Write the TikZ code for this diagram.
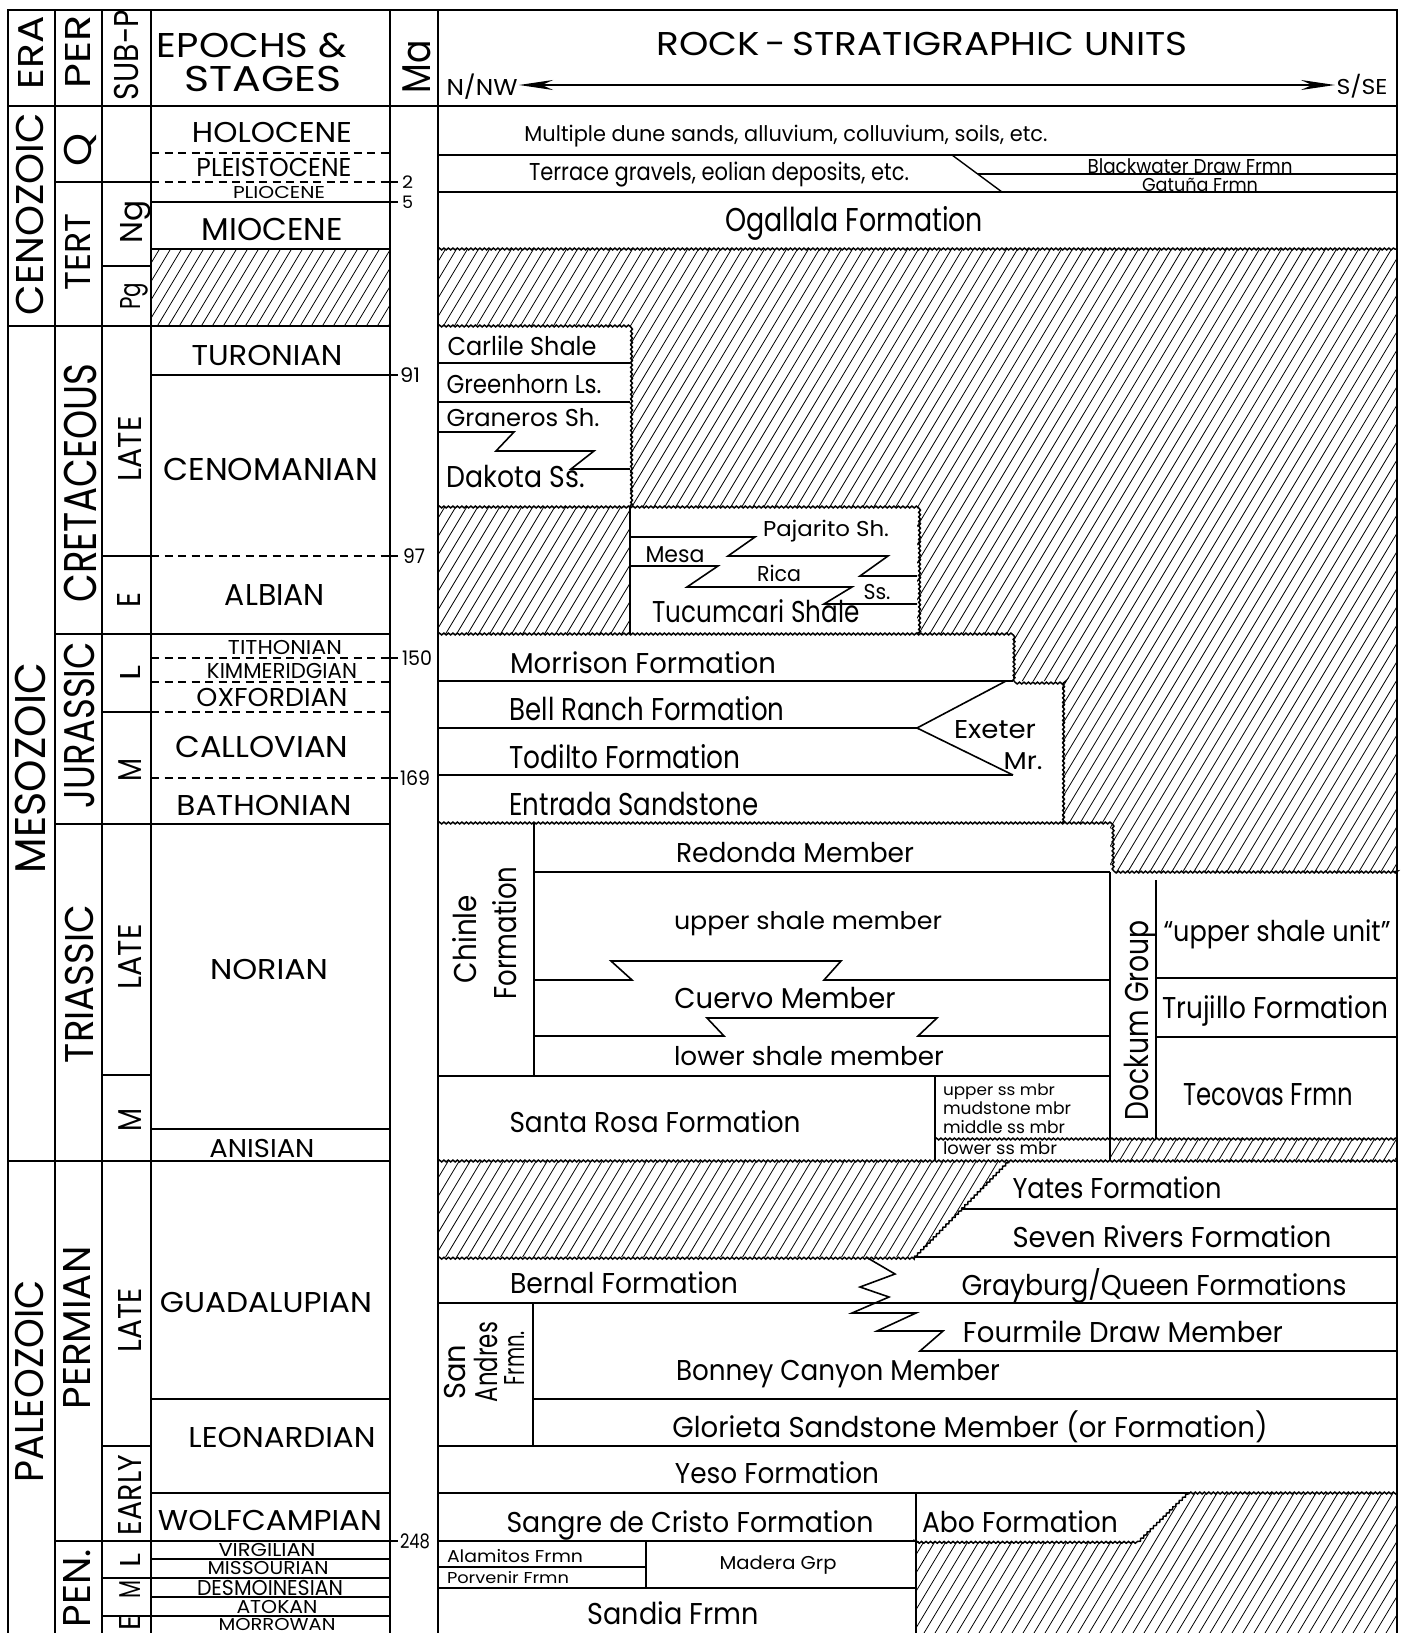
\documentclass[tikz,border=0pt]{standalone}
\usepackage{fontspec}
\setmainfont{Poppins}
\usepackage{graphicx}
\usetikzlibrary{decorations.pathmorphing,arrows.meta}
\newcommand\T[3]{\resizebox{#1pt}{#2pt}{\raisebox{0pt}[\fontcharht\font`X][0pt]{#3}}}
\newcommand\Lab[6]{\node[lbl] (#1) at (#2,#3) {\T{#4}{#5}{#6}};}
\newcommand\Rab[6]{\node[rlbl] (#1) at (#2,#3) {\T{#4}{#5}{#6}};}
\tikzset{
 lbl/.style={anchor=center,inner sep=0pt,outer sep=0pt,font=\fontsize{20}{24}\selectfont},
 rlbl/.style={lbl,rotate=90},
 gridline/.style={line width=1.7pt},
 thinline/.style={line width=1.4pt},
 framel/.style={line width=2.6pt},
 dashl/.style={line width=1.5pt,dash pattern=on 8pt off 5.5pt},
 wavy/.style={line width=1.5pt,decorate,decoration={snake,amplitude=0.9pt,segment length=4.5pt}},
 hatchl/.style={line width=0.8pt},
 zig/.style={line width=1.6pt},
}
\begin{document}
\begin{tikzpicture}[x=1pt,y=-1pt]
\useasboundingbox (0,0) rectangle (1405,1633);
\fill[white] (0,0) rectangle (1405,1633);
% ---------- hatching ----------
\begin{scope}
\clip (151,249) rectangle (390,326)
  (438,249) -- (1397,249) -- (1397,872) -- (1110,872) -- (1110,823) -- (1062,823) -- (1062,681) -- (1013,681) -- (1013,634) -- (917,634) -- (917,507) -- (630,507) -- (630,326) -- (438,326) -- cycle
  (438,507) rectangle (630,634)
  (1110,1139) rectangle (1397,1161)
  (438,1161) -- (1009,1161) -- (915,1257) -- (438,1257) -- cycle
  (1190,1493) -- (1397,1493) -- (1397,1633) -- (916,1633) -- (916,1542) -- (1140,1542) -- cycle;
\foreach \i in {-76,...,128} \draw[hatchl] (\i*11,1633) -- ++(980,-1633);
\end{scope}
% ---------- left columns ----------
\foreach \xx in {55,102,151,390,438} \draw[gridline] (\xx,10) -- (\xx,1633);
\draw[framel] (8,106) -- (1397,106);
\draw[gridline] (8,326) -- (390,326);
\draw[gridline] (8,1161) -- (390,1161);
\draw[gridline] (55,182) -- (151,182);
\draw[gridline] (55,634) -- (390,634);
\draw[gridline] (55,824) -- (390,824);
\draw[gridline] (55,1541) -- (390,1541);
\draw[gridline] (102,266) -- (151,266);
\draw[gridline] (102,556) -- (151,556);
\draw[gridline] (102,712) -- (151,712);
\draw[gridline] (102,1075) -- (151,1075);
\draw[gridline] (102,1446) -- (151,1446);
\draw[thinline] (102,1578) -- (390,1578);
\draw[thinline] (102,1616) -- (390,1616);
\foreach \yy in {153,182,556,658,682,712,778} \draw[dashl] (151,\yy) -- (390,\yy);
\foreach \yy in {202,249,375,1129,1399,1493} \draw[gridline] (151,\yy) -- (390,\yy);
\foreach \yy in {1559,1597} \draw[thinline] (151,\yy) -- (390,\yy);
\foreach \yy in {182,202,375,556,658,778,1541} \draw[thinline] (390,\yy) -- (398,\yy);
% ---------- rock column ----------
\draw[gridline] (438,155) -- (1397,155);
\draw[gridline] (438,192) -- (1397,192);
\draw[thinline] (952,155) -- (1002,192);
\draw[thinline] (978,174) -- (1397,174);
\draw[wavy] (438,249) -- (1397,249);
% Cretaceous
\draw[wavy] (438,326) -- (630,326) -- (630,507);
\draw[gridline] (438,363) -- (630,363);
\draw[gridline] (438,402) -- (630,402);
\draw[zig] (438,432) -- (514,432) -- (496,451) -- (594,451) -- (571,469) -- (630,469);
\draw[wavy] (438,507) -- (917,507) -- (917,634);
\draw[gridline] (630,507) -- (630,634);
\draw[zig] (630,537) -- (755,537) -- (728,556) -- (888,556) -- (860,576) -- (917,576);
\draw[zig] (630,566) -- (718,566) -- (687,587) -- (852,587) -- (824,604) -- (917,604);
% Jurassic
\draw[wavy] (438,634) -- (1013,634) -- (1013,681) -- (1062,681) -- (1062,823);
\draw[gridline] (438,681) -- (1013,681);
\draw[gridline] (438,728) -- (917,728);
\draw[gridline] (438,775) -- (1013,775);
\draw[zig] (1006,681) -- (917,728) -- (1013,775);
\draw[wavy] (438,823) -- (1110,823) -- (1110,872) -- (1397,872);
% Triassic
\draw[gridline] (534,823) -- (534,1076);
\draw[gridline] (534,872) -- (1110,872);
\draw[zig] (534,980) -- (632,980) -- (611,961) -- (841,961) -- (824,980) -- (1110,980);
\draw[zig] (534,1036) -- (724,1036) -- (707,1018) -- (937,1018) -- (918,1036) -- (1110,1036);
\draw[gridline] (438,1076) -- (1110,1076);
\draw[gridline] (1110,872) -- (1110,1161);
\draw[gridline] (935,1076) -- (935,1161);
\draw[wavy] (935,1139) -- (1397,1139);
\draw[gridline] (1156,880) -- (1156,1139);
\draw[gridline] (1156,978) -- (1397,978);
\draw[gridline] (1156,1037) -- (1397,1037);
\draw[wavy] (438,1161) -- (1397,1161);
% Permian
\draw[wavy] (1009,1161) -- (915,1257) -- (438,1257);
\draw[gridline] (962,1209) -- (1397,1209);
\draw[gridline] (915,1257) -- (1397,1257);
\draw[gridline] (438,1303) -- (1397,1303);
\draw[zig] (866,1257) -- (895,1274) -- (860,1287) -- (889,1297) -- (852,1313) -- (916,1313) -- (877,1331) -- (943,1331) -- (920,1351) -- (1397,1351);
\draw[gridline] (533,1303) -- (533,1446);
\draw[gridline] (533,1399) -- (1397,1399);
\draw[gridline] (438,1446) -- (1397,1446);
\draw[gridline] (438,1493) -- (1190,1493);
\draw[wavy] (1397,1493) -- (1190,1493) -- (1140,1542) -- (916,1542);
\draw[gridline] (438,1541) -- (916,1541);
\draw[gridline] (916,1493) -- (916,1633);
\draw[thinline] (646,1541) -- (646,1588);
\draw[thinline] (438,1567) -- (646,1567);
\draw[thinline] (438,1588) -- (916,1588);
% header arrow
\coordinate (arrL) at (519,85);
\coordinate (arrR) at (1335,85);
\draw[line width=2.4pt,{Stealth[length=34pt,width=10pt]}-{Stealth[length=34pt,width=10pt]}] (arrL) -- (arrR);
% frame
\draw[framel] (8,1633) -- (8,10) -- (1397,10) -- (1397,1633);
% ---------- header texts ----------
\Rab{hERA}{31}{53}{73}{25}{ERA}
\Rab{hPER}{78}{52}{73}{25}{PER}
\Rab{hSUB}{126}{55}{90}{24}{SUB-P}
\Lab{hEPa}{252}{45}{190}{24}{EPOCHS \&}
\Lab{hEPb}{263}{79}{157}{25}{STAGES}
\Rab{hMa}{416}{67}{53}{28}{Ma}
\Lab{hRock}{922}{44}{531}{23}{ROCK\,-\,STRATIGRAPHIC UNITS}
\Lab{hN}{482}{87}{71}{16}{N/NW}
\Lab{hS}{1362}{87}{51}{15}{S/SE}
% ---------- era / period / subperiod ----------
\Rab{eCen}{30}{214}{202}{27}{CENOZOIC}
\Rab{eMes}{30}{768}{210}{30}{MESOZOIC}
\Rab{ePal}{29}{1381}{202}{28}{PALEOZOIC}
\Rab{pQ}{78}{150}{33}{27}{Q}
\Rab{pTert}{78}{252}{77}{25}{TERT}
\Rab{pCret}{80}{483}{239}{32}{CRETACEOUS}
\Rab{pJur}{79}{725}{166}{30}{JURASSIC}
\Rab{pTri}{79}{984}{158}{28}{TRIASSIC}
\Rab{pPerm}{77}{1328}{163}{27}{PERMIAN}
\Rab{pPen}{77}{1588}{78}{27}{PEN.}
\Rab{sNg}{131}{222}{43}{22}{Ng}
\Rab{sPg}{130}{296}{27}{20}{Pg}
\Rab{sLa}{130}{449}{65}{23}{LATE}
\Rab{sEa}{129}{600}{15}{23}{E}
\Rab{sLb}{130}{673}{15}{20}{L}
\Rab{sMa}{130}{770}{23}{23}{M}
\Rab{sLc}{130}{957}{65}{23}{LATE}
\Rab{sMb}{130}{1120}{23}{23}{M}
\Rab{sLd}{130}{1320}{64}{23}{LATE}
\Rab{sEarly}{130}{1495}{80}{23}{EARLY}
\Rab{sLe}{130}{1560}{14}{20}{L}
\Rab{sMc}{130}{1589}{18}{21}{M}
\Rab{sEb}{130}{1623}{15}{21}{E}
% ---------- epochs & stages ----------
\Lab{stHol}{272}{132}{160}{20}{HOLOCENE}
\Lab{stPle}{274}{167}{155}{18}{PLEISTOCENE}
\Lab{stPli}{279}{192}{92}{12}{PLIOCENE}
\Lab{stMio}{272}{229}{141}{22}{MIOCENE}
\Lab{stTur}{267}{355}{151}{20}{TURONIAN}
\Lab{stCen}{271}{469}{215}{22}{CENOMANIAN}
\Lab{stAlb}{275}{595}{100}{21}{ALBIAN}
\Lab{stTit}{285}{647}{114}{14}{TITHONIAN}
\Lab{stKim}{282}{671}{150}{15}{KIMMERIDGIAN}
\Lab{stOxf}{272}{697}{151}{18}{OXFORDIAN}
\Lab{stCal}{262}{747}{173}{21}{CALLOVIAN}
\Lab{stBat}{264}{805}{175}{20}{BATHONIAN}
\Lab{stNor}{269}{969}{118}{20}{NORIAN}
\Lab{stAni}{262}{1148}{105}{18}{ANISIAN}
\Lab{stGua}{266}{1302}{212}{20}{GUADALUPIAN}
\Lab{stLeo}{282}{1437}{187}{20}{LEONARDIAN}
\Lab{stWol}{270}{1520}{224}{20}{WOLFCAMPIAN}
\Lab{stVir}{267}{1550}{97}{13}{VIRGILIAN}
\Lab{stMis}{268}{1568}{121}{13}{MISSOURIAN}
\Lab{stDes}{270}{1588}{146}{15}{DESMOINESIAN}
\Lab{stAto}{277}{1607}{81}{13}{ATOKAN}
\Lab{stMor}{277}{1624}{117}{12}{MORROWAN}
% ---------- Ma numbers ----------
\Lab{ma2}{407.5}{182}{11}{12}{2}
\Lab{ma5}{407.5}{202}{11}{12}{5}
\Lab{ma91}{410}{375}{20}{14}{91}
\Lab{ma97}{414}{556}{22}{14}{97}
\Lab{ma150}{417}{658}{30}{14}{150}
\Lab{ma169}{415}{778}{30}{14}{169}
\Lab{ma248}{415}{1541}{30}{14}{248}
% ---------- rock units ----------
\Lab{rMult}{786}{134}{523}{15}{Multiple dune sands, alluvium, colluvium, soils, etc.}
\Lab{rTerr}{719}{172}{380}{17}{Terrace gravels, eolian deposits, etc.}
\Lab{rBlack}{1190}{166}{205}{14}{Blackwater Draw Frmn}
\Lab{rGat}{1200}{185}{116}{13}{Gatuña Frmn}
\Lab{rOgal}{854}{220}{258}{23}{Ogallala Formation}
\Lab{rCarl}{522}{346}{149}{18}{Carlile Shale}
\Lab{rGreen}{524}{384}{155}{18}{Greenhorn Ls.}
\Lab{rGran}{523}{418}{153}{17}{Graneros Sh.}
\Lab{rDak}{516}{477}{138}{21}{Dakota Ss.}
\Lab{rPaj}{826}{529}{126}{15}{Pajarito Sh.}
\Lab{rMesa}{675}{554}{59}{16}{Mesa}
\Lab{rRica}{779}{574}{44}{15}{Rica}
\Lab{rSs}{877}{592}{27}{15}{Ss.}
\Lab{rTuc}{756}{612}{207}{21}{Tucumcari Shale}
\Lab{rMorr}{643}{663}{266}{20}{Morrison Formation}
\Lab{rBell}{647}{709}{275}{22}{Bell Ranch Formation}
\Lab{rTod}{625}{757}{231}{22}{Todilto Formation}
\Lab{rEntr}{634}{804}{249}{22}{Entrada Sandstone}
\Lab{rExe}{995}{729}{82}{18}{Exeter}
\Lab{rMr}{1023}{761}{39}{17}{Mr.}
\Rab{rChA}{465}{939}{88}{22}{Chinle}
\Rab{rChB}{505}{933}{133}{22}{Formation}
\Lab{rRed}{795}{853}{238}{19}{Redonda Member}
\Lab{rUpsh}{808}{921}{268}{17}{upper shale member}
\Lab{rCuer}{785}{998}{221}{20}{Cuervo Member}
\Lab{rLosh}{809}{1056}{270}{18}{lower shale member}
\Lab{rSR}{655}{1122}{291}{20}{Santa Rosa Formation}
\Lab{rUss}{999}{1090}{112}{11}{upper ss mbr}
\Lab{rMud}{1007}{1108}{128}{12}{mudstone mbr}
\Lab{rMid}{1004}{1127}{122}{12}{middle ss mbr}
\Lab{rLow}{1000}{1148}{114}{12}{lower ss mbr}
\Rab{rDock}{1137}{1020}{200}{23}{Dockum Group}
\Lab{rUsu}{1277}{931}{227}{20}{“upper shale unit”}
\Lab{rTruj}{1275}{1008}{226}{21}{Trujillo Formation}
\Lab{rTec}{1268}{1094}{170}{22}{Tecovas Frmn}
\Lab{rYates}{1117}{1188}{209}{20}{Yates Formation}
\Lab{rSeven}{1172}{1237}{319}{20}{Seven Rivers Formation}
\Lab{rBern}{624}{1283}{228}{20}{Bernal Formation}
\Lab{rGray}{1154}{1285}{385}{20}{Grayburg/Queen Formations}
\Rab{rSanA}{455}{1372}{55}{21}{San}
\Rab{rSanB}{486}{1362}{80}{22}{Andres}
\Rab{rSanC}{514}{1358}{54}{20}{Frmn.}
\Lab{rFour}{1123}{1332}{320}{20}{Fourmile Draw Member}
\Lab{rBon}{838}{1370}{324}{20}{Bonney Canyon Member}
\Lab{rGlor}{970}{1427}{595}{20}{Glorieta Sandstone Member (or Formation)}
\Lab{rYeso}{777}{1473}{204}{20}{Yeso Formation}
\Lab{rSangre}{690}{1522}{367}{20}{Sangre de Cristo Formation}
\Lab{rAbo}{1020}{1522}{196}{20}{Abo Formation}
\Lab{rAlam}{515}{1556}{136}{12}{Alamitos Frmn}
\Lab{rPorv}{508}{1578}{122}{11}{Porvenir Frmn}
\Lab{rMad}{778}{1563}{117}{13}{Madera Grp}
\Lab{rSandia}{673}{1614}{171}{21}{Sandia Frmn}
\end{tikzpicture}
\end{document}
